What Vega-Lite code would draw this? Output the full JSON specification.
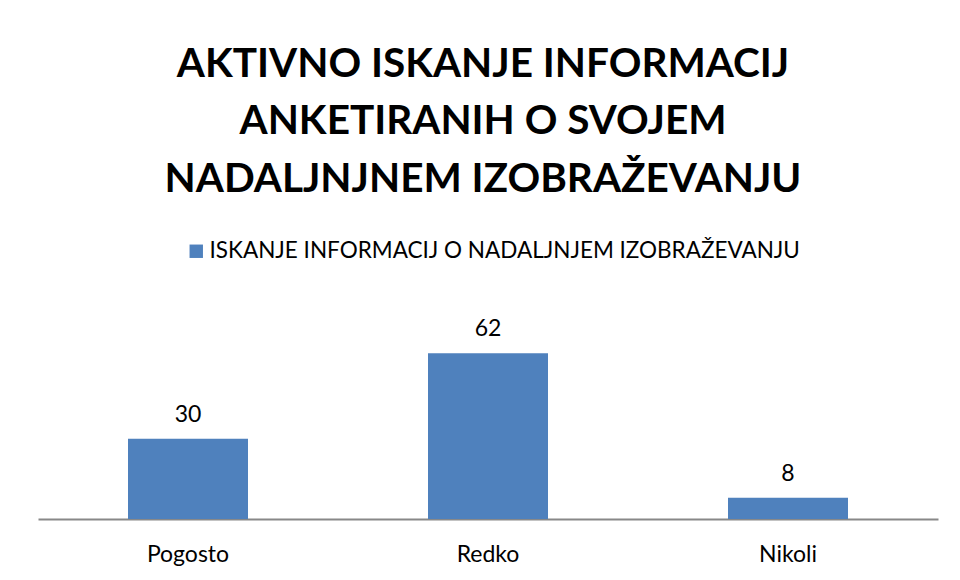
{
  "$schema": "https://vega.github.io/schema/vega-lite/v6.json",
  "autosize": {"type": "none"},
  "width": 900,
  "height": 187,
  "padding": {"left": 38, "top": 332, "right": 22, "bottom": 61},
  "background": "white",
  "title": {
    "text": ["AKTIVNO ISKANJE INFORMACIJ", "ANKETIRANIH  O SVOJEM", "NADALJNJNEM IZOBRAŽEVANJU"],
    "font": "Lato",
    "fontSize": 40.5,
    "fontWeight": "bold",
    "color": "black",
    "lineHeight": 57.5,
    "anchor": "middle",
    "frame": "group",
    "dx": -5,
    "offset": 40
  },
  "data": {
    "values": [
      {"kategorija": "Pogosto", "vrednost": 30, "serija": "ISKANJE INFORMACIJ O NADALJNJEM IZOBRAŽEVANJU"},
      {"kategorija": "Redko", "vrednost": 62, "serija": "ISKANJE INFORMACIJ O NADALJNJEM IZOBRAŽEVANJU"},
      {"kategorija": "Nikoli", "vrednost": 8, "serija": "ISKANJE INFORMACIJ O NADALJNJEM IZOBRAŽEVANJU"}
    ]
  },
  "encoding": {
    "x": {
      "field": "kategorija",
      "type": "nominal",
      "sort": null,
      "scale": {"paddingInner": 0.6, "paddingOuter": 0.3},
      "axis": {
        "title": null,
        "labelAngle": 0,
        "ticks": false,
        "labelFont": "Lato",
        "labelFontSize": 23,
        "labelColor": "black",
        "labelPadding": 24,
        "domainColor": "#888888",
        "domainWidth": 2
      }
    },
    "y": {
      "field": "vrednost",
      "type": "quantitative",
      "scale": {"domain": [0, 70], "nice": false},
      "axis": null
    }
  },
  "layer": [
    {
      "mark": {"type": "bar", "color": "#4F81BD"},
      "encoding": {
        "color": {
          "field": "serija",
          "type": "nominal",
          "scale": {"range": ["#4F81BD"]},
          "legend": {
            "title": null,
            "orient": "none",
            "legendX": 147,
            "legendY": -92,
            "direction": "horizontal",
            "symbolType": "square",
            "symbolSize": 180,
            "symbolOpacity": 1,
            "labelFont": "Lato",
            "labelFontSize": 22.5,
            "labelColor": "black",
            "labelLimit": 800,
            "labelOffset": 2
          }
        }
      }
    },
    {
      "mark": {"type": "text", "baseline": "bottom", "dy": -12, "font": "Lato", "fontSize": 23, "color": "black"},
      "encoding": {"text": {"field": "vrednost", "type": "quantitative"}}
    }
  ],
  "config": {"view": {"stroke": null}}
}
